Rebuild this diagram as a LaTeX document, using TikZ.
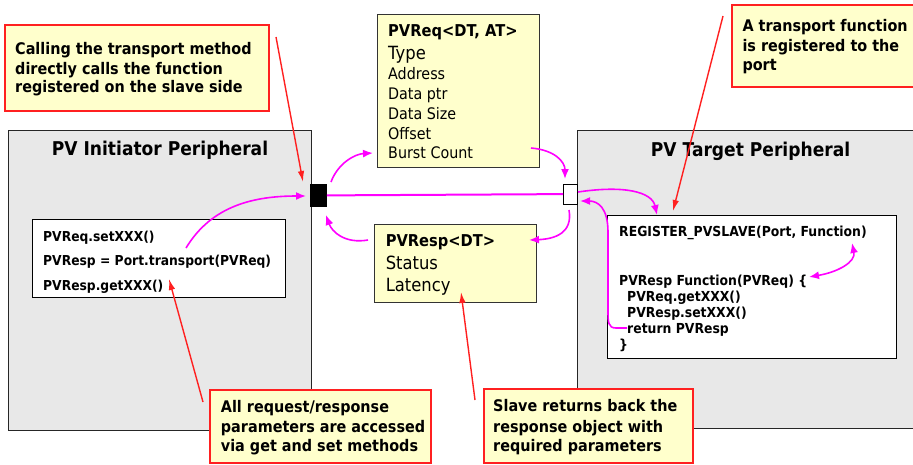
\documentclass[tikz,border=0pt]{standalone}
\usepackage{fontspec}
\setmainfont{DejaVu Sans}[FakeStretch=0.9]
\usetikzlibrary{arrows.meta}
\definecolor{panelgray}{HTML}{E8E8E8}
\definecolor{noteyellow}{HTML}{FFFFCC}
\definecolor{calred}{HTML}{FF2020}
\definecolor{mag}{HTML}{FF00FF}
\begin{document}
\begin{tikzpicture}[x=1pt,y=-1pt,
  panelbox/.style={draw=black!85, line width=1.4pt, fill=panelgray, inner sep=0, anchor=north west},
  codebox/.style={draw=black, line width=1.2pt, fill=white, inner sep=0, anchor=north west},
  infobox/.style={draw=black!80, line width=1.3pt, fill=noteyellow, inner sep=0, anchor=north west},
  callout/.style={draw=calred, line width=1.6pt, fill=noteyellow, inner sep=0, anchor=north west},
  txt/.style={inner sep=0, anchor=base west},
  callouttext/.style={txt, font=\fontsize{16}{19}\selectfont\bfseries},
  titletext/.style={inner sep=0, anchor=base, font=\fontsize{19}{22}\selectfont\bfseries},
  codeL/.style={txt, font=\fontsize{13.7}{16}\selectfont\bfseries},
  codeR/.style={txt, font=\fontsize{13.8}{15}\selectfont\bfseries},
  fieldhead/.style={txt, font=\fontsize{16.3}{19}\selectfont\bfseries},
  field/.style={txt, font=\fontsize{15.9}{19}\selectfont},
  fieldbig/.style={txt, font=\fontsize{18.2}{21}\selectfont},
  magarrow/.style={draw=mag, line width=1.6pt, -{Latex[length=10pt,width=8pt]}},
  magdouble/.style={draw=mag, line width=1.6pt, {Latex[length=10pt,width=8pt]}-{Latex[length=10pt,width=8pt]}},
  redarrow/.style={draw=calred, line width=1.4pt, -{Latex[length=11pt,width=6.5pt]}}
]
\clip (0,0) rectangle (913,464);
\fill[white] (0,0) rectangle (913,464);

% panels
\node[panelbox, minimum width=303, minimum height=300] (ini) at (8,130) {};
\node[panelbox, minimum width=345, minimum height=298] (tgt) at (577,130) {};
\node[titletext] (initl) at (160,155) {PV Initiator Peripheral};
\node[titletext] (tgttl) at (750.5,156) {PV Target Peripheral};

% code boxes
\node[codebox, minimum width=253, minimum height=78] (codeL) at (32,219) {};
\node[codeL] (cl1) at (43,241) {PVReq.setXXX()};
\node[codeL] (cl2) at (43,265) {PVResp = Port.transport(PVReq)};
\node[codeL] (cl3) at (43,290) {PVResp.getXXX()};

\node[codebox, minimum width=289, minimum height=143] (codeR) at (607,215) {};
\node[codeR] (cr1) at (619,236) {REGISTER\_PVSLAVE(Port, Function)};
\node[codeR] (cr2) at (619,285) {PVResp Function(PVReq) \{};
\node[codeR] (cr3) at (627,301.7) {PVReq.getXXX()};
\node[codeR] (cr4) at (627,317.7) {PVResp.setXXX()};
\node[codeR] (cr5) at (627,333) {return PVResp};
\node[codeR] (cr6) at (619,349) {\}};

% ports
\node[draw=black, fill=black, line width=0.8pt, inner sep=0, minimum width=16, minimum height=22, anchor=north west] (bp) at (310,184) {};
\node[draw=black, fill=white, line width=1.2pt, inner sep=0, minimum width=14, minimum height=20, anchor=north west] (wp) at (563,183.5) {};
\draw[mag, line width=2pt] (bp.east) -- (wp.west);

% info boxes
\node[infobox, minimum width=162, minimum height=153] (req) at (377,14) {};
\node[fieldhead] (rq0) at (388,36.7) {PVReq<DT, AT>};
\node[fieldbig] (rq1) at (388,59.3) {Type};
\node[field] (rq2) at (388,79) {Address};
\node[field] (rq3) at (388,99) {Data ptr};
\node[field] (rq4) at (388,119) {Data Size};
\node[field] (rq5) at (388,139.3) {Offset};
\node[field] (rq6) at (388,158.3) {Burst Count};

\node[infobox, minimum width=162, minimum height=78] (resp) at (374,224) {};
\node[fieldhead] (rs0) at (385.6,246) {PVResp<DT>};
\node[fieldbig] (rs1) at (385.6,269) {Status};
\node[fieldbig] (rs2) at (385.6,291.7) {Latency};

% callouts
\node[callout, minimum width=264, minimum height=86] (c1) at (4,24) {};
\node[callouttext] (c1a) at (15,54.3) {Calling the transport method};
\node[callouttext] (c1b) at (15,74) {directly calls the function};
\node[callouttext] (c1c) at (15,92.7) {registered on the slave side};

\node[callout, minimum width=190, minimum height=82] (c2) at (731,4) {};
\node[callouttext] (c2a) at (742.3,31.7) {A transport function};
\node[callouttext] (c2b) at (742.3,51) {is registered to the};
\node[callouttext] (c2c) at (742.3,70.7) {port};

\node[callout, minimum width=221, minimum height=73] (c3) at (209,389) {};
\node[callouttext] (c3a) at (220.7,412.3) {All request/response};
\node[callouttext] (c3b) at (220.7,432.7) {parameters are accessed};
\node[callouttext] (c3c) at (220.7,451.7) {via get and set methods};

\node[callout, minimum width=209, minimum height=74] (c4) at (483,388) {};
\node[callouttext] (c4a) at (493,411) {Slave returns back the};
\node[callouttext] (c4b) at (493,432) {response object with};
\node[callouttext] (c4c) at (493,451) {required parameters};

% connector end points
\coordinate (m1s) at (186,248);
\coordinate (m1e) at (306,196);
\coordinate (m2s) at (331,182);
\coordinate (m2e) at (373,153);
\coordinate (m3s) at (531,148);
\coordinate (m3e) at (565,179);
\coordinate (m4s) at (569,210);
\coordinate (m4e) at (529,240);
\coordinate (m5s) at (368,240);
\coordinate (m5e) at (326,215);
\coordinate (m6s) at (578,192);
\coordinate (m6e) at (657,215);
\coordinate (m7s) at (627,328);
\coordinate (m7e) at (580,201);
\coordinate (m8a) at (809,277);
\coordinate (m8b) at (852,243);

% magenta flow arrows
\draw[magarrow] (m1s) .. controls (212,205) and (255,196) .. (m1e);
\draw[magarrow] (m2s) .. controls (338,163) and (355,154) .. (m2e);
\draw[magarrow] (m3s) .. controls (555,150) and (565,162) .. (m3e);
\draw[magarrow] (m4s) .. controls (573,233) and (555,239) .. (m4e);
\draw[magarrow] (m5s) .. controls (345,244) and (332,232) .. (m5e);
\draw[magarrow] (m6s) .. controls (625,185) and (652,192) .. (m6e);
\draw[magarrow] (m7s) -- (616,328) .. controls (608,328) and (608,322) .. (608,310) -- (608,232) .. controls (608,208) and (598,201) .. (m7e);
\draw[magdouble] (m8a) .. controls (838,272) and (856,262) .. (m8b);

% red callout pointers
\coordinate (r1s) at (276,37);
\coordinate (r1e) at (303,182);
\coordinate (r2s) at (723,16);
\coordinate (r2e) at (673,211);
\coordinate (r3s) at (203,402);
\coordinate (r3e) at (169,279);
\coordinate (r4s) at (475,400);
\coordinate (r4e) at (461,292);
\draw[redarrow] (r1s) -- (r1e);
\draw[redarrow] (r2s) -- (r2e);
\draw[redarrow] (r3s) -- (r3e);
\draw[redarrow] (r4s) -- (r4e);
\end{tikzpicture}
\end{document}
